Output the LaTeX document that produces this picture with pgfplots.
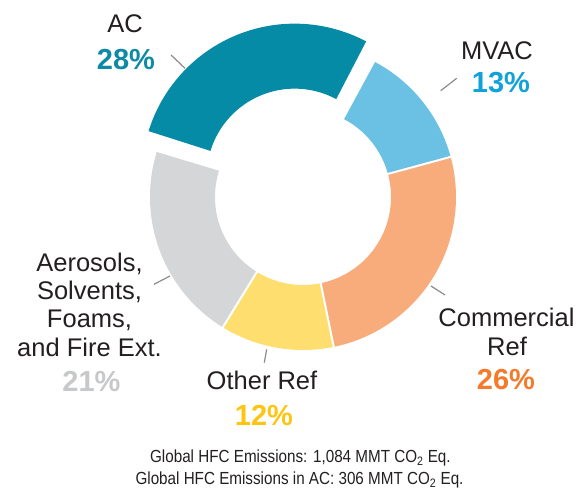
\documentclass[border=0pt]{standalone}
\usepackage{fontspec}
\setmainfont{Liberation Sans}
\newfontfamily\condfont[FakeStretch=0.87]{Liberation Sans}
\usepackage{pgfplots}
\usepackage{pgfplotstable}
\pgfplotsset{compat=1.18}

\definecolor{cAC}{HTML}{068BA6}
\definecolor{tAC}{HTML}{0E8AA5}
\definecolor{cMV}{HTML}{6AC1E3}
\definecolor{tMV}{HTML}{11A1DB}
\definecolor{cCO}{HTML}{F8AC7C}
\definecolor{tCO}{HTML}{F37B2B}
\definecolor{cOT}{HTML}{FFDE70}
\definecolor{tOT}{HTML}{FDC512}
\definecolor{cAE}{HTML}{D5D6D8}
\definecolor{tAE}{HTML}{C7C8CA}
\definecolor{txt}{HTML}{231F20}
\definecolor{lead}{HTML}{8C8C8C}

\pgfplotstableread[col sep=comma]{
name,pct
AC,28
MVAC,13
CommercialRef,26
OtherRef,12
Aerosols,21
}\shares

\begin{document}%
\begin{tikzpicture}
\pgfplotstablegetelem{0}{pct}\of\shares \let\pA\pgfplotsretval
\pgfplotstablegetelem{1}{pct}\of\shares \let\pB\pgfplotsretval
\pgfplotstablegetelem{2}{pct}\of\shares \let\pC\pgfplotsretval
\pgfplotstablegetelem{3}{pct}\of\shares \let\pD\pgfplotsretval
\pgfplotstablegetelem{4}{pct}\of\shares \let\pE\pgfplotsretval
% boundary angles, clockwise from the start of AC
\pgfmathsetmacro\aS{162.8}
\pgfmathsetmacro\aA{\aS-3.6*\pA}
\pgfmathsetmacro\aB{\aA-3.6*\pB}
\pgfmathsetmacro\aC{\aB-3.6*\pC}
\pgfmathsetmacro\aD{\aC-3.6*\pD}
\pgfmathsetmacro\aE{\aD-3.6*\pE}
% exploded offset for AC along its bisector
\pgfmathsetmacro\mAC{(\aS+\aA)/2}
\pgfmathsetmacro\dx{22*cos(\mAC)}
\pgfmathsetmacro\dy{22*sin(\mAC)}
% separator endpoints
\pgfmathsetmacro\sBxi{303+85*cos(\aB)}\pgfmathsetmacro\sByi{292+85*sin(\aB)}
\pgfmathsetmacro\sBxo{303+156*cos(\aB)}\pgfmathsetmacro\sByo{292+156*sin(\aB)}
\pgfmathsetmacro\sCxi{303+85*cos(\aC)}\pgfmathsetmacro\sCyi{292+85*sin(\aC)}
\pgfmathsetmacro\sCxo{303+156*cos(\aC)}\pgfmathsetmacro\sCyo{292+156*sin(\aC)}
\pgfmathsetmacro\sDxi{303+85*cos(\aD)}\pgfmathsetmacro\sDyi{292+85*sin(\aD)}
\pgfmathsetmacro\sDxo{303+156*cos(\aD)}\pgfmathsetmacro\sDyo{292+156*sin(\aD)}
\begin{axis}[at={(0,0)}, anchor=south west, scale only axis,
  width=582pt, height=489pt, xmin=0, xmax=582, ymin=0, ymax=489,
  hide axis, clip=false]
% ring slices (centre 303,292; inner r 88, outer R 153)
\addplot[cAC, line width=65pt, domain=\aA:\aS, samples=90]
  ({303+\dx+120.5*cos(x)},{292+\dy+120.5*sin(x)});
\addplot[cMV, line width=65pt, domain=\aB:\aA, samples=60]
  ({303+120.5*cos(x)},{292+120.5*sin(x)});
\addplot[cCO, line width=65pt, domain=\aC:\aB, samples=90]
  ({303+120.5*cos(x)},{292+120.5*sin(x)});
\addplot[cOT, line width=65pt, domain=\aD:\aC, samples=60]
  ({303+120.5*cos(x)},{292+120.5*sin(x)});
\addplot[cAE, line width=65pt, domain=\aE:\aD, samples=80]
  ({303+120.5*cos(x)},{292+120.5*sin(x)});
% white separators
\addplot[white, line width=2pt] coordinates {(\sBxi,\sByi) (\sBxo,\sByo)};
\addplot[white, line width=2pt] coordinates {(\sCxi,\sCyi) (\sCxo,\sCyo)};
\addplot[white, line width=2pt] coordinates {(\sDxi,\sDyi) (\sDxo,\sDyo)};
% leader lines
\draw[lead, line width=1.2pt] (171,434) -- (185,420.7);
\draw[lead, line width=1.2pt] (440.7,398.3) -- (456.7,410.7);
\draw[lead, line width=1.2pt] (431,203) -- (445,194);
\draw[lead, line width=1.2pt] (266.7,139.7) -- (264.3,126.3);
\draw[lead, line width=1.2pt] (154,204.7) -- (170,213);
% labels
\begin{scope}[every node/.style={anchor=base, inner sep=0pt, text=txt, font=\fontsize{25.5}{30}\selectfont}]
\node at (125,456) {AC};
\node at (497,429) {MVAC};
\node at (506.5,162.3) {Commercial};
\node at (507,133.3) {Ref};
\node at (262,99) {Other Ref};
\node at (89.5,217) {Aerosols,};
\node at (89.5,189) {Solvents,};
\node at (89.5,161) {Foams,};
\node at (89.5,132) {and Fire Ext.};
\end{scope}
\begin{scope}[every node/.style={anchor=base, inner sep=0pt, font=\fontsize{29}{34}\selectfont\bfseries}]
\node[text=tAC] at (126,419) {28\%};
\node[text=tMV] at (501,396) {13\%};
\node[text=tCO] at (506,99) {26\%};
\node[text=tOT] at (264,63) {12\%};
\node[text=tAE] at (91.5,97) {21\%};
\end{scope}
\begin{scope}[every node/.style={anchor=base, inner sep=0pt, text=txt, font=\condfont\fontsize{17.5}{20}\selectfont}]
\node at (300.4,26) {Global HFC Emissions: 1,084 MMT CO\textsubscript{2} Eq.};
\node at (299.5,4) {Global HFC Emissions in AC: 306 MMT CO\textsubscript{2} Eq.};
\end{scope}
\end{axis}
\pgfresetboundingbox
\path[use as bounding box] (0,0) rectangle (582pt,489pt);
\end{tikzpicture}%
\end{document}
